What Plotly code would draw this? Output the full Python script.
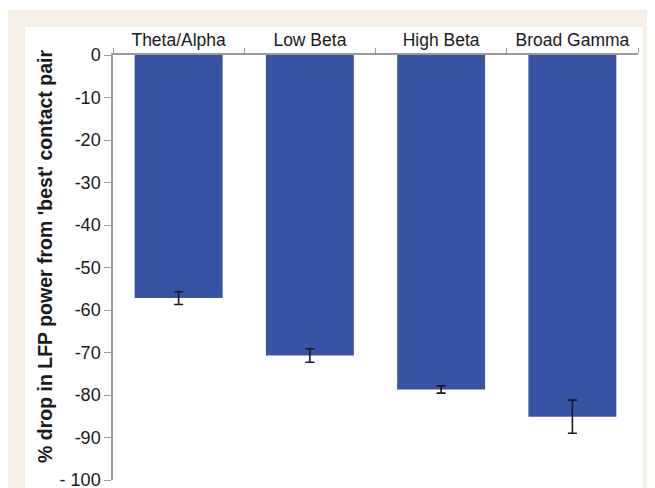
import plotly.graph_objects as go

categories = ["Theta/Alpha", "Low Beta", "High Beta", "Broad Gamma"]
values = [-57.2, -70.7, -78.7, -85.1]
errors = [1.5, 1.6, 0.85, 3.9]
ytick_vals = [0, -10, -20, -30, -40, -50, -60, -70, -80, -90, -100]
ytick_text = ["0", "-10", "-20", "-30", "-40", "-50", "-60", "-70", "-80", "-90", "- 100"]

# page body has an 8px margin, so the figure is offset by 8px
OFF = 8
W, H = 655, 488
# reference pixel positions of the plot area (in page coordinates)
PX0, PX1, PY0, PY1 = 113, 638, 55, 480
L, R, T, B = PX0 - OFF, (W + OFF) - PX1, PY0 - OFF, (H + OFF) - PY1
pw, ph = W - L - R, H - T - B

def px_x(x):
    return (x - PX0) / pw

def px_y(y):
    return (PY1 - y) / ph

FONT = "Liberation Sans, Arial, Helvetica, sans-serif"

fig = go.Figure()
fig.add_trace(go.Bar(
    x=categories, y=values,
    marker=dict(color="#3953A4", line=dict(width=0)),
    error_y=dict(type="data", array=errors, visible=True,
                 color="#1a1a1a", thickness=1.6, width=4.5),
))

fig.add_shape(type="rect", xref="paper", yref="paper",
              x0=px_x(8), x1=px_x(680), y0=px_y(10), y1=px_y(510),
              fillcolor="#F5F0E3", line=dict(width=0), layer="below")
fig.add_shape(type="rect", xref="paper", yref="paper",
              x0=px_x(25), x1=px_x(643), y0=px_y(27), y1=px_y(510),
              fillcolor="white", line=dict(width=0), layer="below")

fig.add_annotation(
    text="% drop in LFP power from 'best' contact pair",
    xref="paper", yref="paper", x=px_x(45), y=px_y(257),
    textangle=-90, showarrow=False, xanchor="center", yanchor="middle",
    font=dict(family=FONT, size=19.5, color="#1a1a1a", weight="bold"),
)

fig.update_layout(
    width=W, height=H,
    margin=dict(l=L, r=R, t=T, b=B, pad=0, autoexpand=False),
    paper_bgcolor="white", plot_bgcolor="rgba(0,0,0,0)",
    bargap=0.33, showlegend=False,
    font=dict(family=FONT, size=17, color="#1a1a1a"),
)
fig.update_xaxes(
    type="category", side="top", showline=True, linecolor="#9a9a9a", linewidth=1.5,
    ticks="outside", tickson="boundaries", ticklen=5, tickcolor="#9a9a9a",
    showgrid=False, zeroline=False, tickfont=dict(size=17.5), automargin=False,
)
fig.update_yaxes(
    range=[-100, 0], showline=True, linecolor="#9a9a9a", linewidth=1.5,
    ticks="outside", ticklen=7, tickcolor="#9a9a9a",
    tickvals=ytick_vals, ticktext=ytick_text,
    showgrid=False, zeroline=False, tickfont=dict(size=18), automargin=False,
)

fig.write_html("out.html")
